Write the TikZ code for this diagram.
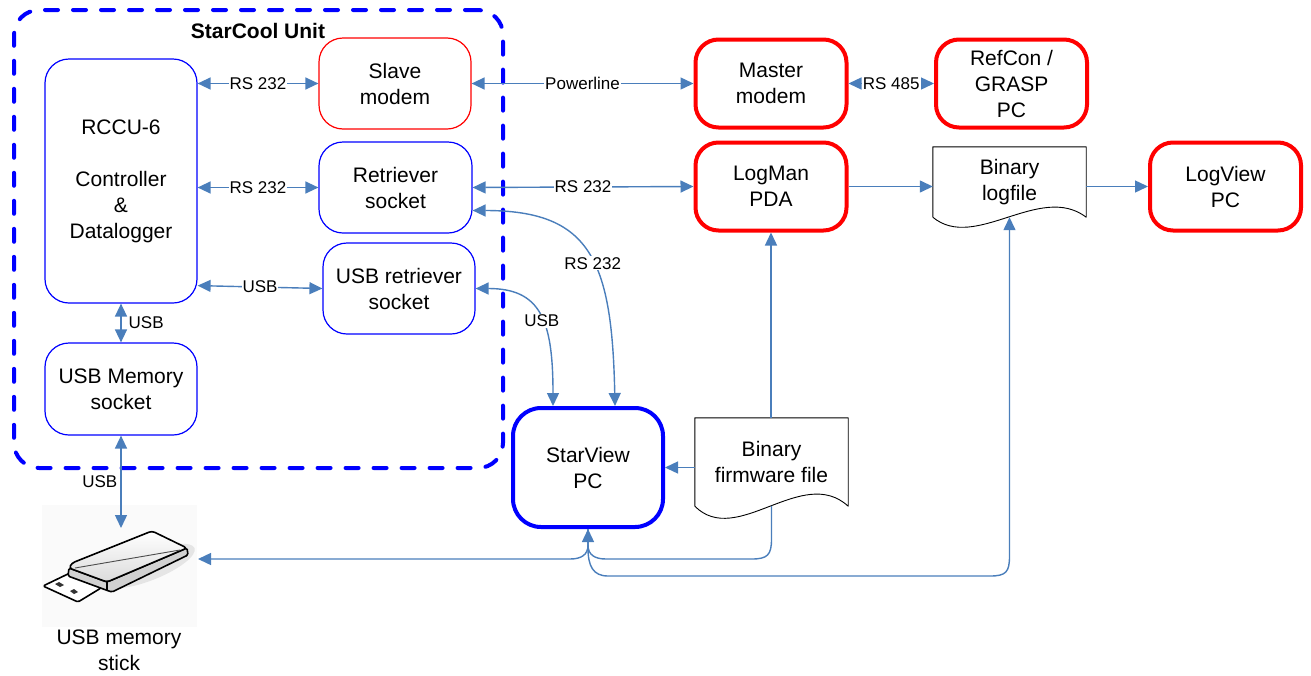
\documentclass[tikz,border=0pt]{standalone}
\usepackage{fontspec}
\setmainfont{Liberation Sans}
\usetikzlibrary{arrows.meta,calc}
\definecolor{conncol}{HTML}{4A7EBB}
\definecolor{pureblue}{HTML}{0000FF}
\definecolor{purered}{HTML}{FF0000}

\begin{document}
\begin{tikzpicture}[x=1pt,y=-1pt,
  txt/.style={font=\fontsize{21}{26}\selectfont, align=center, text=black},
  lbl/.style={font=\fontsize{17}{20}\selectfont, fill=white, inner sep=1pt, text=black},
  lblplain/.style={font=\fontsize{17}{20}\selectfont, inner sep=1pt, text=black},
  box/.style={txt, rectangle, rounded corners=24pt, inner sep=0pt,
    minimum width=152pt, minimum height=91pt},
  thinblue/.style={box, draw=pureblue, line width=1.2pt},
  thinred/.style={box, draw=purered, line width=1.2pt},
  thickred/.style={box, draw=purered, line width=4pt, rounded corners=23pt,
    minimum width=151pt, minimum height=88pt},
  thickblue/.style={box, draw=pureblue, line width=4pt, rounded corners=28pt,
    minimum width=150pt, minimum height=119pt},
  docbox/.style={txt, rectangle, inner sep=0pt, minimum width=153pt},
  conn/.style={conncol, line width=1.4pt, >={Triangle[length=13pt,width=12pt]}},
]
\useasboundingbox (0,0) rectangle (1311,675);

% ---- StarCool unit container ----
\node[draw=pureblue, line width=4pt, dash pattern=on 13pt off 15pt, line cap=round,
      rounded corners=25pt, minimum width=489pt, minimum height=458pt, inner sep=0pt]
      (unit) at (258.5,239) {};
\node[font=\bfseries\fontsize{21}{26}\selectfont] (title) at (258,31) {StarCool Unit};

% ---- blocks inside the unit ----
\node[thinblue, minimum height=244pt] (rccu) at (121,181)
  {RCCU-6\\[26pt]Controller\\\&\\Datalogger};
\node[thinblue, minimum height=92pt] (usbmem) at (121,389) {USB Memory\\socket};
\node[thinred] (slave) at (395,83.5) {Slave\\modem};
\node[thinblue, minimum width=153pt] (retr) at (395.5,187.5) {Retriever\\socket};
\node[thinblue] (usbretr) at (399,288.5) {USB retriever\\socket};

% ---- external blocks ----
\node[thickred] (master) at (771,83.5) {Master\\modem};
\node[thickred] (refcon) at (1011.5,83.5) {RefCon /\\GRASP\\PC};
\node[thickred] (logman) at (771,186.5) {LogMan\\PDA};
\node[thickred] (logview) at (1225.5,186.5) {LogView\\PC};
\node[thickblue] (starview) at (588,467.5) {StarView\\PC};

% ---- files (document shapes) ----
\node[docbox, minimum height=70pt] (logfile) at (1009.5,182) {Binary\\logfile};
\draw[black, line width=0.9pt, line join=round]
  (logfile.south west) -- (logfile.north west) -- (logfile.north east) -- (logfile.south east)
  .. controls +(-46,-35) and +(42,35) .. (logfile.south west);

\node[docbox, minimum height=88pt] (fw) at (771.5,462) {Binary\\firmware file};
\draw[black, line width=0.9pt, line join=round]
  (fw.south west) -- (fw.north west) -- (fw.north east) -- (fw.south east)
  .. controls +(-46,-42) and +(42,42) .. (fw.south west);

% ---- USB memory stick ----
\node[fill=black!2, minimum width=155pt, minimum height=122pt, inner sep=0pt] (stick) at (119.5,566) {};
\fill[black!10] (150,566) ellipse [x radius=48pt, y radius=14pt, rotate=22];
% plug
\filldraw[fill=white, draw=black, line width=1.6pt, line join=round, rounded corners=1.5pt]
  (43,586) -- (72,572) -- (101,588) -- (78,602) -- cycle;
\fill[black!80] (55,584) -- (59,582) -- (64,585) -- (60,587) -- cycle;
\fill[black!80] (70,591) -- (74,589) -- (78,592) -- (74,594) -- cycle;
% body: lower band and top face
\filldraw[fill=black!18, draw=black, line width=1.6pt, line join=round, rounded corners=1.5pt]
  (69,568) -- (107,582) -- (187,548) -- (188,555) -- (112,592) -- (106,590) -- (68,576) -- cycle;
\draw[draw=black, line width=1.6pt, line join=round, top color=white, bottom color=black!14, rounded corners=3pt]
  (72,563) -- (152,531) -- (187,548) -- (107,582) -- (69,568) -- cycle;
\draw[black!70, line width=0.9pt] (75,568) -- (180,550);
\draw[black, line width=1.2pt] (107,582) -- (107,590);
\coordinate (stickin) at (198,559);
\coordinate (sticktop) at (121,528);
\node[txt] (sticklbl) at (119,650) {USB memory\\stick};

% ---- connectors inside the unit ----
\draw[conn,<->] (slave.west -| rccu.east) -- node[lbl]{RS 232} (slave.west);
\draw[conn,<->] (retr.west -| rccu.east) -- node[lbl]{RS 232} (retr.west);
\draw[conn,<->] ([yshift=18pt]rccu.south east) -- node[lbl]{USB} (usbretr.west);
\draw[conn,<->] (rccu.south) -- node[lblplain, right=6pt]{USB} (usbmem.north);
\draw[conn,<->] (usbmem.south) -- node[lblplain, left=2pt]{USB} (sticktop);

% ---- links to the outside ----
\draw[conn,<->] (slave.east) -- node[lbl]{Powerline} (master.west);
\draw[conn,<->] (master.east) -- node[lbl]{RS 485} (refcon.west);
\draw[conn,<->] (retr.east) -- node[lbl]{RS 232} (logman.west);
\draw[conn,->] (logman.east) -- (logfile.west |- logman.east);
\draw[conn,->] (logfile.east |- logview.west) -- (logview.west);
\draw[conn,->] (logman.south |- fw.north) -- (logman.south);
\draw[conn,->] (fw.west |- starview.east) -- (starview.east);

\draw[conn,<->] ([yshift=-23pt]retr.east) .. controls +(118,0) and +(-3,-146) ..
  node[lbl, pos=0.55]{RS 232} ([xshift=27pt]starview.north);
\draw[conn,<->] (usbretr.east) .. controls +(65,0) and +(0,-86) ..
  node[lbl, pos=0.55]{USB} ([xshift=-35pt]starview.north);

% ---- bottom routing ----
\draw[conn,->] (starview.south) -- (588,545) .. controls (588,555) and (581,559) .. (570,559) -- (stickin);
\draw[conn,->] (fw.south) -- (771.5,539) .. controls (771.5,555) and (767.5,559) .. (751.5,559)
  -- (606,559) .. controls (595,559) and (588,555) .. (588,545) -- (starview.south);
\draw[conn,->] (starview.south) -- (588,548) .. controls (588,566) and (593,576) .. (608,576)
  -- (990,576) .. controls (1006,576) and (1009.5,572) .. (1009.5,556) -- (logfile.south);

\end{tikzpicture}
\end{document}
